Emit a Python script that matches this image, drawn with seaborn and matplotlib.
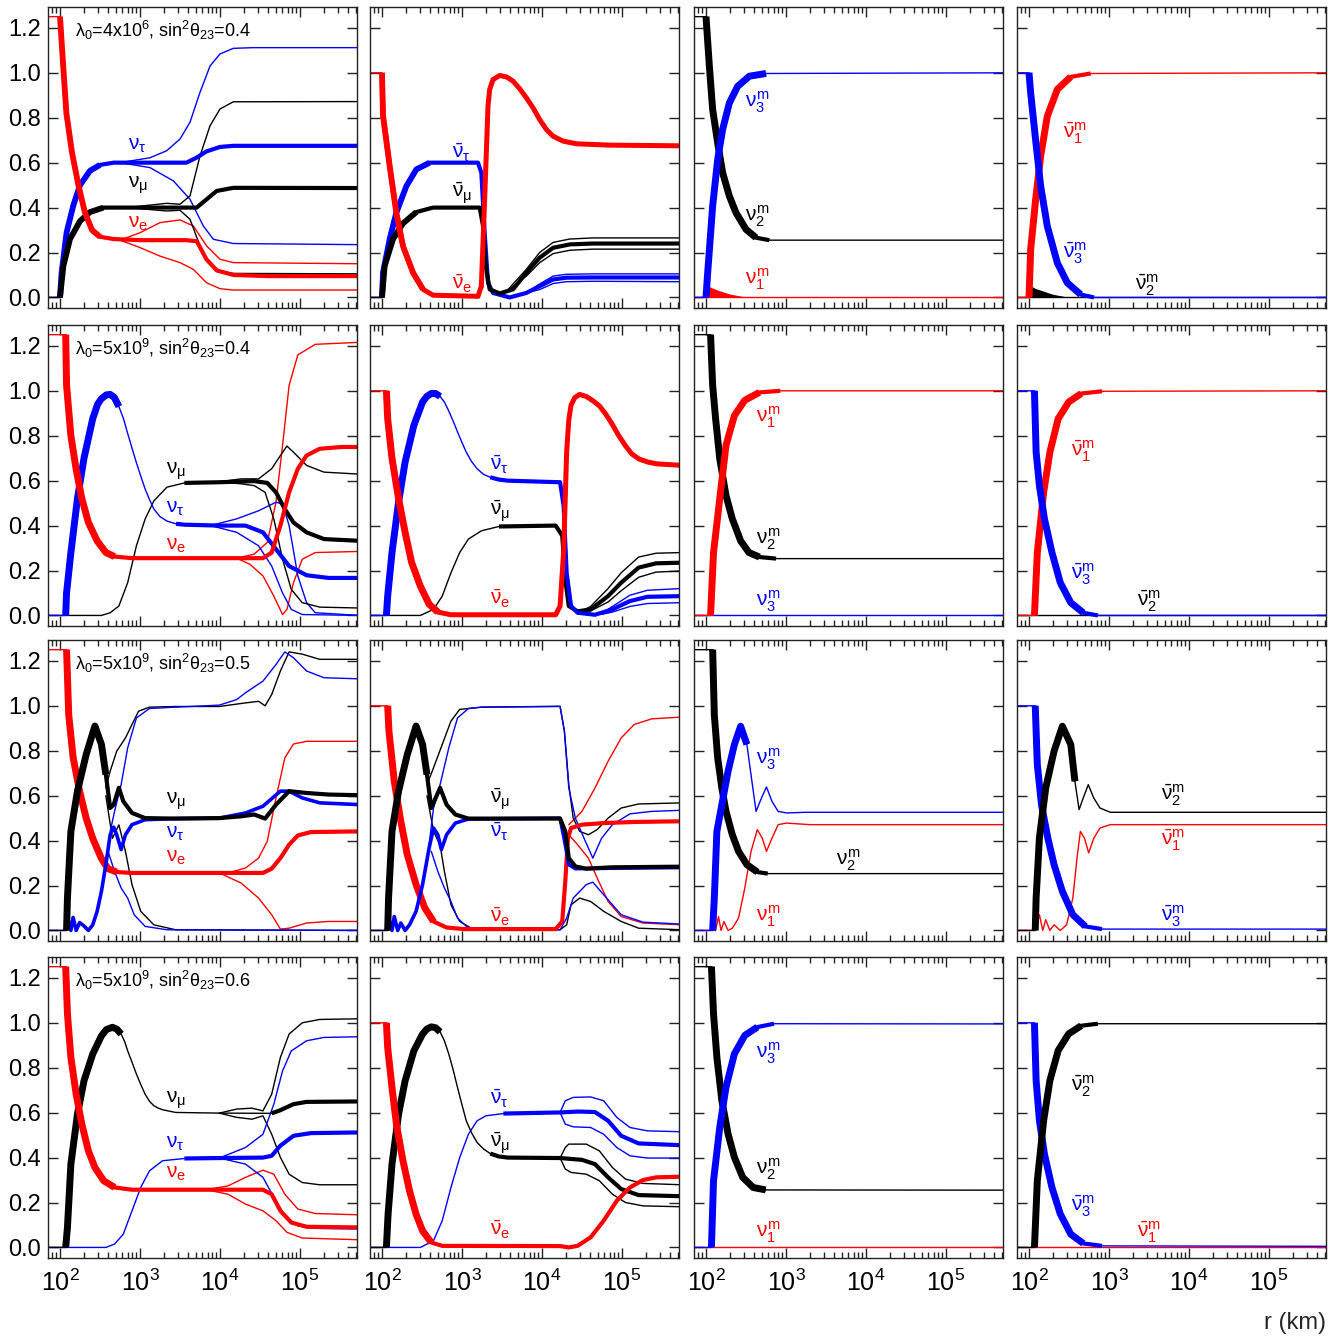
import numpy as np
import matplotlib
matplotlib.use("Agg")
import matplotlib.pyplot as plt
import seaborn as sns
from matplotlib.ticker import LogLocator, NullFormatter, FixedLocator, FixedFormatter

# ---------------------------------------------------------------------------
# Flavour / matter-eigenstate probabilities versus radius.
# Abscissae are log10(r / km); ordinates are probabilities.
# ---------------------------------------------------------------------------

# ---- row 1: lambda0 = 4x10^6, sin^2(theta23) = 0.4 -------------------------
p11_e_L = [1.8, 2.0, 2.04, 2.08, 2.15, 2.23, 2.31, 2.4, 2.5, 2.67, 3.0, 3.58, 3.71, 3.83, 3.96, 4.17, 4.6, 5.75]
p11_e_y = [1.25, 1.25, 1.03, 0.82, 0.645, 0.50, 0.38, 0.30, 0.27, 0.26, 0.255, 0.255, 0.25, 0.17, 0.12, 0.10, 0.095, 0.095]
p11_e_up_L = [2.75, 3.0, 3.25, 3.5, 3.667, 3.833, 4.0, 4.167, 5.75]
p11_e_up_y = [0.255, 0.288, 0.333, 0.345, 0.318, 0.229, 0.17, 0.155, 0.15]
p11_e_dn_L = [2.75, 3.0, 3.25, 3.5, 3.667, 3.833, 4.0, 4.167, 5.75]
p11_e_dn_y = [0.255, 0.222, 0.184, 0.155, 0.125, 0.065, 0.039, 0.033, 0.033]
p11_tau_L = [1.8, 2.0, 2.02, 2.083, 2.167, 2.25, 2.375, 2.5, 2.67, 3.58, 3.71, 3.83, 4.0, 4.17, 5.75]
p11_tau_y = [0, 0, 0.11, 0.29, 0.41, 0.50, 0.564, 0.59, 0.60, 0.60, 0.623, 0.65, 0.67, 0.675, 0.675]
p11_tau_up_L = [2.75, 3.125, 3.333, 3.5, 3.625, 3.75, 3.875, 4.0, 4.167, 4.42, 5.75]
p11_tau_up_y = [0.60, 0.622, 0.653, 0.705, 0.78, 0.913, 1.03, 1.084, 1.109, 1.112, 1.112]
p11_tau_dn_L = [2.75, 3.125, 3.417, 3.625, 3.792, 3.917, 4.167, 5.75]
p11_tau_dn_y = [0.60, 0.578, 0.519, 0.437, 0.318, 0.259, 0.24, 0.235]
p11_mu_L = [1.8, 2.0, 2.042, 2.125, 2.25, 2.375, 2.542, 3.708, 3.833, 3.958, 4.167, 5.75]
p11_mu_y = [0, 0, 0.14, 0.26, 0.34, 0.38, 0.40, 0.40, 0.437, 0.474, 0.488, 0.487]
p11_mu_up_L = [2.833, 3.333, 3.5, 3.625, 3.75, 3.875, 4.0, 4.167, 5.75]
p11_mu_up_y = [0.40, 0.419, 0.415, 0.452, 0.63, 0.764, 0.839, 0.871, 0.872]
p11_mu_dn_L = [2.833, 3.333, 3.5, 3.625, 3.75, 3.875, 4.0, 4.167, 5.75]
p11_mu_dn_y = [0.40, 0.385, 0.388, 0.348, 0.229, 0.147, 0.117, 0.107, 0.105]

p12_e_L = [1.8, 2.0, 2.0125, 2.096, 2.179, 2.263, 2.388, 2.513, 2.638, 3.2, 3.242, 3.283, 3.325, 3.346, 3.388, 3.471, 3.554, 3.638, 3.721, 3.804, 3.888, 3.971, 4.054, 4.138, 4.263, 4.429, 4.846, 5.75]
p12_e_y = [1.0, 1.0, 0.81, 0.585, 0.377, 0.228, 0.11, 0.036, 0.01, 0.005, 0.05, 0.436, 0.852, 0.926, 0.97, 0.988, 0.982, 0.963, 0.929, 0.889, 0.844, 0.792, 0.748, 0.718, 0.696, 0.684, 0.678, 0.675]
p12_tau_L = [1.8, 2.0, 2.0125, 2.096, 2.179, 2.304, 2.429, 2.596, 3.2, 3.242, 3.283, 3.325, 3.388, 3.596, 3.804, 3.971, 4.138, 4.304, 4.638, 5.75]
p12_tau_y = [0, 0, 0.11, 0.26, 0.377, 0.495, 0.57, 0.60, 0.60, 0.555, 0.288, 0.065, 0.02, 0.0, 0.02, 0.05, 0.08, 0.088, 0.089, 0.089]
p12_tau_up_L = [3.8, 3.97, 4.14, 4.3, 4.64, 5.75]
p12_tau_up_y = [0.02, 0.06, 0.095, 0.103, 0.105, 0.105]
p12_tau_dn_L = [3.8, 3.97, 4.14, 4.3, 4.64, 5.75]
p12_tau_dn_y = [0.02, 0.035, 0.062, 0.07, 0.072, 0.07]
p12_mu_L = [1.8, 2.0, 2.033, 2.138, 2.263, 2.429, 2.638, 3.221, 3.263, 3.296, 3.346, 3.471, 3.638, 3.804, 3.971, 4.138, 4.346, 4.638, 5.75]
p12_mu_y = [0, 0, 0.14, 0.26, 0.33, 0.38, 0.40, 0.40, 0.318, 0.14, 0.036, 0.018, 0.036, 0.11, 0.177, 0.221, 0.236, 0.24, 0.24]
p12_mu_up_L = [3.55, 3.804, 3.971, 4.138, 4.346, 4.638, 5.75]
p12_mu_up_y = [0.025, 0.125, 0.2, 0.245, 0.26, 0.265, 0.265]
p12_mu_dn_L = [3.55, 3.804, 3.971, 4.138, 4.346, 4.638, 5.75]
p12_mu_dn_y = [0.025, 0.095, 0.155, 0.195, 0.21, 0.215, 0.215]

p13_m2_L = [1.8, 2.0, 2.042, 2.083, 2.146, 2.208, 2.292, 2.375, 2.5, 2.625, 2.792, 5.75]
p13_m2_y = [1.25, 1.25, 1.03, 0.837, 0.688, 0.555, 0.451, 0.377, 0.303, 0.266, 0.255, 0.255]
p13_m3_L = [1.8, 2.0, 2.021, 2.083, 2.146, 2.208, 2.292, 2.396, 2.542, 2.75, 5.75]
p13_m3_y = [0, 0, 0.11, 0.406, 0.614, 0.748, 0.866, 0.94, 0.985, 0.997, 1.0]
p13_m1_L = [1.8, 5.75]
p13_m1_y = [0.0, 0.0]
p13_m1_osc_L = [2.0, 2.02, 2.06, 2.15, 2.3, 2.45, 2.55]
p13_m1_osc_y = [0.0, 0.055, 0.045, 0.032, 0.015, 0.005, 0.0]

p14_m3_L = [1.8, 2.0, 2.021, 2.083, 2.146, 2.229, 2.354, 2.479, 2.646, 2.813, 5.75]
p14_m3_y = [1.0, 1.0, 0.91, 0.70, 0.495, 0.317, 0.154, 0.065, 0.013, 0.0, 0.0]
p14_m1_L = [1.8, 2.0, 2.021, 2.083, 2.146, 2.229, 2.354, 2.521, 2.771, 5.75]
p14_m1_y = [0, 0, 0.214, 0.436, 0.63, 0.807, 0.926, 0.982, 0.997, 1.0]
p14_m2_L = [1.8, 5.75]
p14_m2_y = [0.0, 0.0]
p14_m2_osc_L = [2.0, 2.03, 2.08, 2.18, 2.3, 2.45, 2.55]
p14_m2_osc_y = [0.0, 0.05, 0.04, 0.028, 0.014, 0.004, 0.0]

# ---- row 2: lambda0 = 5x10^9, sin^2(theta23) = 0.4 -------------------------
p21_e_L = [1.8, 2.071, 2.082, 2.136, 2.202, 2.273, 2.355, 2.464, 2.573, 2.682, 2.9, 4.537, 4.646, 4.755, 4.864, 4.973, 5.082, 5.246, 5.519, 5.75]
p21_e_y = [1.25, 1.25, 1.025, 0.80, 0.65, 0.52, 0.414, 0.332, 0.28, 0.262, 0.255, 0.255, 0.28, 0.40, 0.548, 0.653, 0.712, 0.742, 0.75, 0.75]
p21_e_up_L = [4.209, 4.428, 4.591, 4.7, 4.782, 4.864, 4.973, 5.191, 5.75]
p21_e_up_y = [0.255, 0.273, 0.325, 0.504, 0.757, 1.025, 1.16, 1.207, 1.216]
p21_e_dn_L = [4.209, 4.373, 4.537, 4.673, 4.782, 4.837, 4.919, 5.028, 5.191, 5.75]
p21_e_dn_y = [0.255, 0.228, 0.176, 0.086, 0.004, 0.027, 0.146, 0.25, 0.28, 0.285]
p21_tau_L = [1.8, 2.071, 2.082, 2.136, 2.218, 2.3, 2.409, 2.47, 2.518, 2.58, 2.627, 2.68, 2.736, 2.79, 2.846, 2.9, 2.955, 3.01, 3.064, 3.12, 3.173, 3.25, 3.337, 3.45, 3.555, 3.991, 4.318, 4.537, 4.7, 4.864, 5.082, 5.355, 5.75]
p21_tau_y = [0, 0, 0.10, 0.28, 0.52, 0.70, 0.876, 0.94, 0.965, 0.982, 0.984, 0.97, 0.93, 0.88, 0.81, 0.745, 0.68, 0.62, 0.563, 0.515, 0.474, 0.44, 0.42, 0.408, 0.404, 0.40, 0.40, 0.37, 0.295, 0.22, 0.179, 0.167, 0.167]
p21_tau_up_L = [3.882, 4.209, 4.482, 4.7, 4.782, 4.864, 4.973, 5.082, 5.191, 5.75]
p21_tau_up_y = [0.40, 0.43, 0.466, 0.504, 0.496, 0.40, 0.176, 0.057, 0.012, 0.0]
p21_tau_dn_L = [3.882, 4.209, 4.482, 4.646, 4.782, 4.891, 5.028, 5.75]
p21_tau_dn_y = [0.40, 0.37, 0.31, 0.22, 0.10, 0.027, 0.004, 0.0]
p21_mu_L = [1.8, 2.518, 2.627, 2.736, 2.846, 2.955, 3.064, 3.173, 3.337, 3.555, 3.991, 4.428, 4.591, 4.7, 4.809, 4.918, 5.082, 5.3, 5.75]
p21_mu_y = [0, 0, 0.012, 0.042, 0.146, 0.31, 0.429, 0.51, 0.571, 0.59, 0.593, 0.598, 0.59, 0.548, 0.474, 0.414, 0.37, 0.34, 0.332]
p21_mu_up_L = [3.991, 4.264, 4.482, 4.646, 4.755, 4.837, 4.918, 5.082, 5.3, 5.75]
p21_mu_up_y = [0.595, 0.608, 0.608, 0.653, 0.712, 0.754, 0.727, 0.668, 0.638, 0.629]
p21_mu_dn_L = [3.991, 4.264, 4.428, 4.564, 4.673, 4.782, 4.891, 5.028, 5.246, 5.75]
p21_mu_dn_y = [0.595, 0.586, 0.578, 0.548, 0.429, 0.25, 0.116, 0.057, 0.037, 0.033]

p22_e_L = [1.8, 2.055, 2.071, 2.125, 2.207, 2.289, 2.371, 2.48, 2.589, 2.698, 2.862, 4.171, 4.226, 4.27, 4.308, 4.335, 4.363, 4.41, 4.47, 4.553, 4.64, 4.72, 4.8, 4.88, 4.96, 5.04, 5.12, 5.21, 5.32, 5.43, 5.75]
p22_e_y = [1.0, 1.0, 0.876, 0.70, 0.52, 0.37, 0.235, 0.13, 0.05, 0.015, 0.003, 0.003, 0.042, 0.28, 0.727, 0.87, 0.936, 0.97, 0.984, 0.975, 0.955, 0.932, 0.895, 0.85, 0.80, 0.757, 0.72, 0.697, 0.683, 0.675, 0.668]
p22_tau_L = [1.8, 2.055, 2.071, 2.125, 2.207, 2.289, 2.398, 2.507, 2.56, 2.616, 2.67, 2.726, 2.78, 2.835, 2.89, 2.944, 3.0, 3.053, 3.12, 3.189, 3.27, 3.353, 3.46, 3.571, 4.226, 4.27, 4.308, 4.363, 4.444, 4.662, 4.88, 5.099, 5.317, 5.75]
p22_tau_y = [0, 0, 0.086, 0.28, 0.504, 0.683, 0.846, 0.95, 0.975, 0.988, 0.988, 0.975, 0.95, 0.91, 0.865, 0.817, 0.77, 0.727, 0.685, 0.653, 0.628, 0.615, 0.605, 0.60, 0.593, 0.489, 0.19, 0.042, 0.012, 0.003, 0.027, 0.064, 0.083, 0.086]
p22_tau_up_L = [4.75, 4.88, 5.099, 5.317, 5.75]
p22_tau_up_y = [0.01, 0.04, 0.09, 0.112, 0.12]
p22_tau_dn_L = [4.75, 4.88, 5.099, 5.317, 5.75]
p22_tau_dn_y = [0.005, 0.015, 0.04, 0.053, 0.057]
p22_mu_L = [1.8, 2.48, 2.644, 2.753, 2.862, 2.971, 3.08, 3.244, 3.462, 4.171, 4.253, 4.291, 4.335, 4.444, 4.608, 4.826, 4.99, 5.208, 5.426, 5.75]
p22_mu_y = [0, 0, 0.027, 0.086, 0.19, 0.28, 0.34, 0.377, 0.396, 0.40, 0.355, 0.16, 0.042, 0.018, 0.027, 0.086, 0.146, 0.213, 0.232, 0.235]
p22_mu_up_L = [4.5, 4.608, 4.826, 4.99, 5.208, 5.426, 5.75]
p22_mu_up_y = [0.02, 0.04, 0.12, 0.19, 0.26, 0.277, 0.28]
p22_mu_dn_L = [4.5, 4.608, 4.826, 4.99, 5.208, 5.426, 5.75]
p22_mu_dn_y = [0.02, 0.02, 0.06, 0.11, 0.17, 0.193, 0.198]

p23_m2_L = [1.8, 2.057, 2.083, 2.12, 2.172, 2.25, 2.329, 2.433, 2.537, 2.668, 2.876, 5.75]
p23_m2_y = [1.25, 1.25, 1.025, 0.876, 0.697, 0.534, 0.43, 0.332, 0.28, 0.26, 0.253, 0.253]
p23_m1_L = [1.8, 2.057, 2.094, 2.172, 2.25, 2.355, 2.485, 2.668, 2.929, 5.75]
p23_m1_y = [0, 0, 0.28, 0.52, 0.757, 0.89, 0.958, 0.993, 1.0, 1.0]
p23_m3_L = [1.8, 5.75]
p23_m3_y = [0.0, 0.0]

p24_m3_L = [1.8, 2.068, 2.089, 2.13, 2.193, 2.287, 2.391, 2.522, 2.678, 2.861, 5.75]
p24_m3_y = [1.0, 1.0, 0.727, 0.578, 0.43, 0.28, 0.146, 0.057, 0.012, 0.0, 0.0]
p24_m1_L = [1.8, 2.068, 2.104, 2.183, 2.261, 2.365, 2.496, 2.652, 2.913, 5.75]
p24_m1_y = [0, 0, 0.28, 0.548, 0.727, 0.876, 0.95, 0.988, 0.998, 1.0]
p24_m2_L = [1.8, 5.75]
p24_m2_y = [0.0, 0.0]

# ---- row 3: lambda0 = 5x10^9, sin^2(theta23) = 0.5 -------------------------
p31_e_L = [1.8, 2.082, 2.109, 2.164, 2.245, 2.327, 2.409, 2.518, 2.6, 2.709, 2.9, 4.537, 4.646, 4.755, 4.864, 4.973, 5.137, 5.75]
p31_e_y = [1.25, 1.25, 0.96, 0.77, 0.62, 0.50, 0.41, 0.32, 0.275, 0.26, 0.256, 0.256, 0.275, 0.322, 0.382, 0.423, 0.438, 0.441]
p31_e_up_L = [4.1, 4.319, 4.482, 4.591, 4.7, 4.81, 4.918, 5.082, 5.75]
p31_e_up_y = [0.256, 0.278, 0.322, 0.397, 0.59, 0.768, 0.83, 0.842, 0.842]
p31_e_dn_L = [3.991, 4.264, 4.482, 4.646, 4.755, 4.864, 5.082, 5.355, 5.75]
p31_e_dn_y = [0.256, 0.211, 0.144, 0.07, 0.006, 0.01, 0.033, 0.04, 0.04]
p31_mu_L = [1.8, 2.082, 2.093, 2.136, 2.218, 2.327, 2.436, 2.518, 2.573, 2.627, 2.671, 2.736, 2.791, 2.9, 3.064, 3.446, 3.991, 4.264, 4.428, 4.564, 4.7, 4.864, 5.082, 5.355, 5.75]
p31_mu_y = [0, 0, 0.144, 0.441, 0.62, 0.783, 0.91, 0.828, 0.694, 0.545, 0.56, 0.635, 0.575, 0.523, 0.50, 0.498, 0.50, 0.508, 0.516, 0.498, 0.56, 0.62, 0.612, 0.605, 0.602]
p31_mu_up_L = [2.573, 2.627, 2.709, 2.818, 2.9, 2.982, 3.118, 3.446, 3.991, 4.319, 4.482, 4.564, 4.646, 4.755, 4.864, 5.028, 5.246, 5.75]
p31_mu_up_y = [0.635, 0.709, 0.798, 0.857, 0.917, 0.976, 0.994, 0.997, 0.997, 1.013, 1.02, 1.0, 1.05, 1.155, 1.24, 1.23, 1.207, 1.207]
p31_mu_dn_L = [2.573, 2.655, 2.736, 2.818, 2.9, 3.009, 3.173, 3.446, 5.75]
p31_mu_dn_y = [0.60, 0.41, 0.47, 0.352, 0.204, 0.085, 0.025, 0.003, 0.0]
p31_tau_L = [1.8, 2.082, 2.109, 2.136, 2.164, 2.202, 2.245, 2.3, 2.355, 2.409, 2.464, 2.518, 2.573, 2.627, 2.671, 2.709, 2.764, 2.818, 2.9, 3.064, 3.446, 3.991, 4.319, 4.537, 4.755, 4.864, 5.028, 5.246, 5.75]
p31_tau_y = [0, 0, 0.04, 0.0, 0.058, 0.0, 0.035, 0.02, 0.0, 0.025, 0.085, 0.174, 0.293, 0.426, 0.46, 0.426, 0.36, 0.426, 0.471, 0.493, 0.498, 0.50, 0.523, 0.553, 0.62, 0.62, 0.59, 0.568, 0.56]
p31_tau_up_L = [2.627, 2.682, 2.764, 2.846, 2.955, 3.118, 3.446, 3.991, 4.209, 4.319, 4.537, 4.7, 4.81, 4.918, 5.082, 5.3, 5.75]
p31_tau_up_y = [0.44, 0.53, 0.649, 0.813, 0.946, 0.988, 0.994, 1.003, 1.028, 1.058, 1.11, 1.184, 1.24, 1.214, 1.155, 1.125, 1.12]
p31_tau_dn_L = [2.6, 2.682, 2.764, 2.846, 2.927, 3.064, 3.337, 5.75]
p31_tau_dn_y = [0.352, 0.263, 0.189, 0.144, 0.07, 0.018, 0.003, 0.0]

p32_e_L = [1.8, 2.071, 2.087, 2.153, 2.235, 2.316, 2.426, 2.535, 2.644, 2.807, 3.026, 4.171, 4.253, 4.291, 4.324, 4.363, 4.499, 4.771, 5.153, 5.75]
p32_e_y = [1.0, 1.0, 0.887, 0.664, 0.486, 0.337, 0.204, 0.10, 0.04, 0.013, 0.006, 0.006, 0.04, 0.218, 0.41, 0.456, 0.471, 0.478, 0.483, 0.486]
p32_e_up_L = [4.335, 4.499, 4.662, 4.826, 4.99, 5.153, 5.371, 5.75]
p32_e_up_y = [0.471, 0.53, 0.634, 0.753, 0.857, 0.917, 0.942, 0.95]
p32_e_dn_L = [4.335, 4.444, 4.58, 4.69, 4.826, 4.99, 5.262, 5.75]
p32_e_dn_y = [0.426, 0.382, 0.322, 0.233, 0.129, 0.062, 0.033, 0.025]
p32_mu_L = [1.8, 2.071, 2.082, 2.125, 2.207, 2.316, 2.426, 2.507, 2.562, 2.616, 2.726, 2.807, 2.917, 3.08, 4.226, 4.291, 4.335, 4.417, 4.553, 4.88, 5.75]
p32_mu_y = [0, 0, 0.144, 0.441, 0.62, 0.783, 0.91, 0.828, 0.694, 0.545, 0.635, 0.56, 0.516, 0.498, 0.498, 0.441, 0.322, 0.285, 0.275, 0.281, 0.284]
p32_mu_up_L = [2.562, 2.644, 2.753, 2.862, 2.971, 3.244, 4.226, 4.28, 4.335, 4.39, 4.471, 4.58, 4.69, 4.826, 4.99, 5.208, 5.75]
p32_mu_up_y = [0.649, 0.724, 0.828, 0.932, 0.984, 0.994, 0.998, 0.887, 0.649, 0.50, 0.441, 0.426, 0.449, 0.50, 0.545, 0.563, 0.568]
p32_mu_dn_L = [2.562, 2.644, 2.726, 2.78, 2.862, 2.971, 3.135, 4.226, 4.308, 4.363, 4.471, 4.608, 4.771, 4.99, 5.208, 5.75]
p32_mu_dn_y = [0.60, 0.441, 0.38, 0.263, 0.114, 0.04, 0.006, 0.003, 0.025, 0.114, 0.144, 0.129, 0.085, 0.04, 0.01, 0.003]
p32_tau_L = [1.8, 2.071, 2.098, 2.125, 2.153, 2.196, 2.235, 2.289, 2.344, 2.426, 2.507, 2.589, 2.644, 2.698, 2.742, 2.807, 2.917, 3.08, 4.226, 4.291, 4.335, 4.417, 4.88, 5.75]
p32_tau_y = [0, 0, 0.04, 0.0, 0.062, 0.0, 0.033, 0.0, 0.025, 0.085, 0.204, 0.367, 0.456, 0.426, 0.36, 0.426, 0.478, 0.496, 0.50, 0.382, 0.293, 0.275, 0.277, 0.28]
p32_tau_up_L = [2.589, 2.644, 2.726, 2.835, 2.944, 3.08, 3.244, 4.226, 4.28, 4.335, 4.417, 4.526, 4.635, 4.744, 4.88, 5.099, 5.371, 5.75]
p32_tau_up_y = [0.382, 0.545, 0.649, 0.813, 0.946, 0.988, 0.994, 0.997, 0.887, 0.634, 0.50, 0.41, 0.322, 0.41, 0.471, 0.519, 0.53, 0.535]
p32_tau_dn_L = [2.616, 2.698, 2.78, 2.862, 2.944, 3.08, 4.226, 4.308, 4.39, 4.553, 4.635, 4.771, 4.99, 5.262, 5.75]
p32_tau_dn_y = [0.352, 0.263, 0.189, 0.129, 0.055, 0.01, 0.003, 0.055, 0.144, 0.204, 0.215, 0.159, 0.07, 0.037, 0.028]

p33_m2_L = [1.8, 2.083, 2.104, 2.146, 2.198, 2.25, 2.329, 2.407, 2.511, 2.642, 2.772, 5.75]
p33_m2_y = [1.25, 1.25, 0.96, 0.768, 0.634, 0.53, 0.426, 0.352, 0.293, 0.26, 0.253, 0.253]
p33_m3_L = [1.8, 2.083, 2.104, 2.136, 2.198, 2.276, 2.355, 2.433, 2.511, 2.574, 2.626, 2.694, 2.756, 2.824, 2.902, 3.007, 3.242, 5.75]
p33_m3_y = [0, 0, 0.144, 0.441, 0.56, 0.709, 0.828, 0.909, 0.828, 0.664, 0.53, 0.59, 0.639, 0.575, 0.53, 0.523, 0.526, 0.526]
p33_m1_L = [1.8, 2.083, 2.12, 2.156, 2.188, 2.224, 2.276, 2.329, 2.407, 2.485, 2.563, 2.642, 2.704, 2.756, 2.824, 2.902, 3.007, 3.294, 5.75]
p33_m1_y = [0, 0, 0.0, 0.062, 0.0, 0.04, 0.0, 0.01, 0.055, 0.189, 0.352, 0.449, 0.41, 0.352, 0.41, 0.471, 0.478, 0.471, 0.471]

p34_m3_L = [1.8, 2.078, 2.104, 2.156, 2.235, 2.313, 2.417, 2.548, 2.704, 2.913, 5.75]
p34_m3_y = [1.0, 1.0, 0.738, 0.56, 0.412, 0.293, 0.174, 0.07, 0.018, 0.006, 0.006]
p34_m2_L = [1.8, 2.078, 2.089, 2.13, 2.209, 2.313, 2.417, 2.522, 2.574, 2.626, 2.678, 2.741, 2.809, 2.887, 3.017, 5.75]
p34_m2_y = [0, 0, 0.144, 0.412, 0.634, 0.798, 0.909, 0.828, 0.664, 0.538, 0.59, 0.649, 0.59, 0.545, 0.526, 0.526]
p34_m1_L = [1.8, 2.078, 2.13, 2.172, 2.209, 2.261, 2.313, 2.391, 2.47, 2.548, 2.6, 2.642, 2.694, 2.746, 2.809, 2.887, 3.017, 5.75]
p34_m1_y = [0, 0, 0.07, 0.0, 0.048, 0.0, 0.025, 0.0, 0.025, 0.144, 0.322, 0.441, 0.41, 0.345, 0.41, 0.456, 0.471, 0.471]

# ---- row 4: lambda0 = 5x10^9, sin^2(theta23) = 0.6 -------------------------
p41_e_L = [1.8, 2.071, 2.093, 2.136, 2.202, 2.273, 2.355, 2.436, 2.546, 2.682, 2.9, 4.537, 4.646, 4.755, 4.891, 5.082, 5.75]
p41_e_y = [1.25, 1.25, 1.04, 0.846, 0.682, 0.549, 0.43, 0.356, 0.297, 0.267, 0.257, 0.257, 0.237, 0.163, 0.111, 0.092, 0.089]
p41_e_up_L = [3.828, 4.1, 4.319, 4.537, 4.673, 4.81, 4.973, 5.191, 5.75]
p41_e_up_y = [0.257, 0.274, 0.312, 0.344, 0.326, 0.237, 0.171, 0.151, 0.145]
p41_e_dn_L = [3.828, 4.1, 4.319, 4.537, 4.7, 4.837, 5.028, 5.75]
p41_e_dn_y = [0.257, 0.237, 0.193, 0.163, 0.119, 0.067, 0.042, 0.034]
p41_mu_L = [1.8, 2.071, 2.093, 2.136, 2.218, 2.3, 2.409, 2.518, 2.58, 2.655, 2.71, 2.764, 2.81, 2.846, 2.9, 2.955, 3.01, 3.064, 3.12, 3.173, 3.23, 3.282, 3.446, 3.991, 4.646, 4.755, 4.918, 5.082, 5.75]
p41_mu_y = [0, 0, 0.089, 0.371, 0.593, 0.742, 0.861, 0.942, 0.97, 0.98, 0.972, 0.95, 0.915, 0.875, 0.825, 0.772, 0.725, 0.682, 0.65, 0.631, 0.62, 0.613, 0.601, 0.598, 0.597, 0.611, 0.638, 0.648, 0.65]
p41_mu_up_L = [3.991, 4.209, 4.4, 4.537, 4.646, 4.755, 4.864, 5.028, 5.246, 5.75]
p41_mu_up_y = [0.598, 0.616, 0.62, 0.608, 0.682, 0.846, 0.95, 1.0, 1.015, 1.018]
p41_mu_dn_L = [3.991, 4.209, 4.4, 4.537, 4.646, 4.755, 4.864, 5.028, 5.246, 5.75]
p41_mu_dn_y = [0.598, 0.579, 0.571, 0.586, 0.504, 0.401, 0.326, 0.289, 0.279, 0.279]
p41_tau_L = [1.8, 2.573, 2.682, 2.791, 2.9, 3.009, 3.118, 3.282, 3.555, 3.991, 4.537, 4.646, 4.755, 4.918, 5.137, 5.75]
p41_tau_y = [0, 0, 0.015, 0.059, 0.163, 0.267, 0.341, 0.386, 0.396, 0.398, 0.40, 0.408, 0.453, 0.497, 0.509, 0.512]
p41_tau_up_L = [3.991, 4.319, 4.537, 4.673, 4.782, 4.891, 5.082, 5.3, 5.75]
p41_tau_up_y = [0.398, 0.445, 0.504, 0.638, 0.786, 0.875, 0.92, 0.935, 0.938]
p41_tau_dn_L = [3.991, 4.319, 4.537, 4.673, 4.81, 4.973, 5.191, 5.75]
p41_tau_dn_y = [0.398, 0.371, 0.312, 0.223, 0.141, 0.096, 0.085, 0.082]

p42_e_L = [1.8, 2.055, 2.071, 2.125, 2.18, 2.262, 2.344, 2.426, 2.507, 2.616, 2.753, 4.226, 4.335, 4.444, 4.608, 4.771, 4.935, 5.099, 5.262, 5.426, 5.75]
p42_e_y = [1.0, 1.0, 0.89, 0.712, 0.549, 0.386, 0.252, 0.148, 0.074, 0.022, 0.007, 0.006, 0.0, 0.007, 0.045, 0.119, 0.208, 0.267, 0.30, 0.312, 0.315]
p42_mu_L = [1.8, 2.055, 2.076, 2.125, 2.207, 2.289, 2.398, 2.507, 2.56, 2.616, 2.67, 2.726, 2.78, 2.835, 2.89, 2.944, 3.0, 3.053, 3.12, 3.189, 3.27, 3.353, 3.46, 3.571, 4.226, 4.499, 4.662, 4.826, 4.99, 5.208, 5.75]
p42_mu_y = [0, 0, 0.148, 0.371, 0.593, 0.742, 0.875, 0.95, 0.972, 0.982, 0.978, 0.96, 0.92, 0.861, 0.79, 0.712, 0.635, 0.564, 0.51, 0.467, 0.438, 0.418, 0.405, 0.40, 0.398, 0.39, 0.371, 0.312, 0.26, 0.233, 0.228]
p42_mu_up_L = [4.226, 4.291, 4.335, 4.553, 4.717, 4.88, 5.044, 5.262, 5.75]
p42_mu_up_y = [0.398, 0.445, 0.46, 0.46, 0.43, 0.356, 0.304, 0.285, 0.279]
p42_mu_dn_L = [4.226, 4.291, 4.362, 4.553, 4.717, 4.88, 5.044, 5.262, 5.75]
p42_mu_dn_y = [0.398, 0.349, 0.334, 0.326, 0.297, 0.237, 0.20, 0.185, 0.181]
p42_tau_L = [1.8, 2.48, 2.644, 2.753, 2.862, 2.971, 3.08, 3.189, 3.298, 3.517, 4.226, 4.444, 4.662, 4.826, 4.99, 5.208, 5.75]
p42_tau_y = [0, 0, 0.03, 0.119, 0.267, 0.40, 0.504, 0.564, 0.586, 0.596, 0.601, 0.605, 0.603, 0.564, 0.497, 0.463, 0.455]
p42_tau_up_L = [4.226, 4.291, 4.39, 4.608, 4.771, 4.935, 5.099, 5.317, 5.75]
p42_tau_up_y = [0.601, 0.653, 0.668, 0.67, 0.653, 0.579, 0.534, 0.519, 0.515]
p42_tau_dn_L = [4.226, 4.291, 4.39, 4.608, 4.771, 4.935, 5.099, 5.317, 5.75]
p42_tau_dn_y = [0.601, 0.549, 0.537, 0.534, 0.504, 0.445, 0.408, 0.398, 0.398]

p43_m2_L = [1.8, 2.068, 2.094, 2.136, 2.198, 2.276, 2.355, 2.459, 2.589, 2.746, 5.75]
p43_m2_y = [1.25, 1.25, 1.04, 0.847, 0.654, 0.505, 0.401, 0.312, 0.267, 0.256, 0.255]
p43_m3_L = [1.8, 2.068, 2.094, 2.172, 2.25, 2.355, 2.485, 2.642, 2.85, 5.75]
p43_m3_y = [0, 0, 0.297, 0.535, 0.713, 0.862, 0.944, 0.981, 0.996, 0.995]
p43_m1_L = [1.8, 5.75]
p43_m1_y = [0.0, 0.0]

p44_m3_L = [1.8, 2.068, 2.089, 2.13, 2.193, 2.287, 2.391, 2.522, 2.678, 2.913, 5.75]
p44_m3_y = [1.0, 1.0, 0.743, 0.565, 0.416, 0.267, 0.149, 0.059, 0.018, 0.007, 0.005]
p44_m2_L = [1.8, 2.068, 2.104, 2.183, 2.261, 2.365, 2.496, 2.652, 2.861, 5.75]
p44_m2_y = [0, 0, 0.297, 0.565, 0.743, 0.877, 0.951, 0.987, 0.996, 0.996]
p44_m1_L = [1.8, 5.75]
p44_m1_y = [0.0, 0.0]

# panel captions (one per row) and axis labels
row_captions = [r"$\lambda_0$=4x10$^6$, sin$^2\theta_{23}$=0.4",
                r"$\lambda_0$=5x10$^9$, sin$^2\theta_{23}$=0.4",
                r"$\lambda_0$=5x10$^9$, sin$^2\theta_{23}$=0.5",
                r"$\lambda_0$=5x10$^9$, sin$^2\theta_{23}$=0.6"]
x_tick_values = [1e2, 1e3, 1e4, 1e5]
x_tick_labels = [r"$10^2$", r"$10^3$", r"$10^4$", r"$10^5$"]
y_tick_values = [0.0, 0.2, 0.4, 0.6, 0.8, 1.0, 1.2]
y_tick_labels = ["0.0", "0.2", "0.4", "0.6", "0.8", "1.0", "1.2"]
x_axis_label = "r (km)"

# ---------------------------------------------------------------------------
RED, BLUE, BLACK = "#ff0000", "#0000ff", "#000000"
FULL = "full"
B12 = (4.2, 2.6)    # oscillation smear on the first-row flavour curves
B24 = (5.0, 2.75)   # oscillation smear elsewhere

# (row, col, L, y, colour, thick segments, smear (lw, end), thick lw)
curves = [
    (0, 0, p11_e_up_L, p11_e_up_y, RED, None, None, None),
    (0, 0, p11_e_dn_L, p11_e_dn_y, RED, None, None, None),
    (0, 0, p11_tau_up_L, p11_tau_up_y, BLUE, None, None, None),
    (0, 0, p11_tau_dn_L, p11_tau_dn_y, BLUE, None, None, None),
    (0, 0, p11_mu_up_L, p11_mu_up_y, BLACK, None, None, None),
    (0, 0, p11_mu_dn_L, p11_mu_dn_y, BLACK, None, None, None),
    (0, 0, p11_tau_L, p11_tau_y, BLUE, FULL, B12, 3.0),
    (0, 0, p11_mu_L, p11_mu_y, BLACK, FULL, B12, 3.0),
    (0, 0, p11_e_L, p11_e_y, RED, FULL, B12, 3.0),

    (0, 1, p12_tau_up_L, p12_tau_up_y, BLUE, None, None, None),
    (0, 1, p12_tau_dn_L, p12_tau_dn_y, BLUE, None, None, None),
    (0, 1, p12_mu_up_L, p12_mu_up_y, BLACK, None, None, None),
    (0, 1, p12_mu_dn_L, p12_mu_dn_y, BLACK, None, None, None),
    (0, 1, p12_tau_L, p12_tau_y, BLUE, FULL, B12, 3.0),
    (0, 1, p12_mu_L, p12_mu_y, BLACK, FULL, B12, 3.0),
    (0, 1, p12_e_L, p12_e_y, RED, FULL, B12, 3.6),

    (0, 2, p13_m1_L, p13_m1_y, RED, None, None, None),
    (0, 2, p13_m2_L, p13_m2_y, BLACK, [(2.0, 2.8)], B24, 3.0),
    (0, 2, p13_m3_L, p13_m3_y, BLUE, [(2.0, 2.75)], B24, 3.0),

    (0, 3, p14_m2_L, p14_m2_y, BLACK, None, None, None),
    (0, 3, p14_m1_L, p14_m1_y, RED, [(2.0, 2.78)], B24, 3.0),
    (0, 3, p14_m3_L, p14_m3_y, BLUE, [(2.0, 2.82)], B24, 3.0),

    (1, 0, p21_e_up_L, p21_e_up_y, RED, None, None, None),
    (1, 0, p21_e_dn_L, p21_e_dn_y, RED, None, None, None),
    (1, 0, p21_tau_up_L, p21_tau_up_y, BLUE, None, None, None),
    (1, 0, p21_tau_dn_L, p21_tau_dn_y, BLUE, None, None, None),
    (1, 0, p21_mu_up_L, p21_mu_up_y, BLACK, None, None, None),
    (1, 0, p21_mu_dn_L, p21_mu_dn_y, BLACK, None, None, None),
    (1, 0, p21_mu_L, p21_mu_y, BLACK, [(3.5, 5.75)], None, 3.0),
    (1, 0, p21_tau_L, p21_tau_y, BLUE, [(2.071, 2.75), (3.45, 5.75)], B24, 3.0),
    (1, 0, p21_e_L, p21_e_y, RED, FULL, B24, 3.0),

    (1, 1, p22_tau_up_L, p22_tau_up_y, BLUE, None, None, None),
    (1, 1, p22_tau_dn_L, p22_tau_dn_y, BLUE, None, None, None),
    (1, 1, p22_mu_up_L, p22_mu_up_y, BLACK, None, None, None),
    (1, 1, p22_mu_dn_L, p22_mu_dn_y, BLACK, None, None, None),
    (1, 1, p22_mu_L, p22_mu_y, BLACK, [(3.4, 5.75)], None, 3.0),
    (1, 1, p22_tau_L, p22_tau_y, BLUE, [(2.055, 2.75), (3.3, 5.75)], B24, 3.0),
    (1, 1, p22_e_L, p22_e_y, RED, FULL, B24, 3.6),

    (1, 2, p23_m3_L, p23_m3_y, BLUE, None, None, None),
    (1, 2, p23_m2_L, p23_m2_y, BLACK, [(2.057, 2.88)], B24, 3.0),
    (1, 2, p23_m1_L, p23_m1_y, RED, [(2.057, 2.93)], B24, 3.0),

    (1, 3, p24_m2_L, p24_m2_y, BLACK, None, None, None),
    (1, 3, p24_m1_L, p24_m1_y, RED, [(2.068, 2.92)], B24, 3.0),
    (1, 3, p24_m3_L, p24_m3_y, BLUE, [(2.068, 2.87)], B24, 3.0),

    (2, 0, p31_e_up_L, p31_e_up_y, RED, None, None, None),
    (2, 0, p31_e_dn_L, p31_e_dn_y, RED, None, None, None),
    (2, 0, p31_mu_up_L, p31_mu_up_y, BLACK, None, None, None),
    (2, 0, p31_mu_dn_L, p31_mu_dn_y, BLACK, None, None, None),
    (2, 0, p31_tau_up_L, p31_tau_up_y, BLUE, None, None, None),
    (2, 0, p31_tau_dn_L, p31_tau_dn_y, BLUE, None, None, None),
    (2, 0, p31_e_L, p31_e_y, RED, FULL, B24, 3.0),
    (2, 0, p31_tau_L, p31_tau_y, BLUE, FULL, None, 2.6),
    (2, 0, p31_mu_L, p31_mu_y, BLACK, FULL, (5.0, 2.6), 3.0),

    (2, 1, p32_e_up_L, p32_e_up_y, RED, None, None, None),
    (2, 1, p32_e_dn_L, p32_e_dn_y, RED, None, None, None),
    (2, 1, p32_mu_up_L, p32_mu_up_y, BLACK, None, None, None),
    (2, 1, p32_mu_dn_L, p32_mu_dn_y, BLACK, None, None, None),
    (2, 1, p32_tau_up_L, p32_tau_up_y, BLUE, None, None, None),
    (2, 1, p32_tau_dn_L, p32_tau_dn_y, BLUE, None, None, None),
    (2, 1, p32_e_L, p32_e_y, RED, FULL, B24, 3.0),
    (2, 1, p32_tau_L, p32_tau_y, BLUE, FULL, None, 2.6),
    (2, 1, p32_mu_L, p32_mu_y, BLACK, FULL, (5.0, 2.6), 3.0),

    (2, 2, p33_m1_L, p33_m1_y, RED, None, None, None),
    (2, 2, p33_m2_L, p33_m2_y, BLACK, [(2.083, 2.78)], B24, 3.0),
    (2, 2, p33_m3_L, p33_m3_y, BLUE, [(2.083, 2.55)], (5.0, 2.55), 3.0),

    (2, 3, p34_m1_L, p34_m1_y, RED, None, None, None),
    (2, 3, p34_m3_L, p34_m3_y, BLUE, [(2.078, 2.92)], (5.0, 2.8), 3.0),
    (2, 3, p34_m2_L, p34_m2_y, BLACK, [(2.078, 2.6)], (5.0, 2.6), 3.0),

    (3, 0, p41_e_up_L, p41_e_up_y, RED, None, None, None),
    (3, 0, p41_e_dn_L, p41_e_dn_y, RED, None, None, None),
    (3, 0, p41_mu_up_L, p41_mu_up_y, BLACK, None, None, None),
    (3, 0, p41_mu_dn_L, p41_mu_dn_y, BLACK, None, None, None),
    (3, 0, p41_tau_up_L, p41_tau_up_y, BLUE, None, None, None),
    (3, 0, p41_tau_dn_L, p41_tau_dn_y, BLUE, None, None, None),
    (3, 0, p41_tau_L, p41_tau_y, BLUE, [(3.4, 5.75)], None, 3.0),
    (3, 0, p41_mu_L, p41_mu_y, BLACK, [(2.071, 2.78), (4.3, 5.75)], (5.0, 2.78), 3.0),
    (3, 0, p41_e_L, p41_e_y, RED, FULL, B24, 3.0),

    (3, 1, p42_mu_up_L, p42_mu_up_y, BLACK, None, None, None),
    (3, 1, p42_mu_dn_L, p42_mu_dn_y, BLACK, None, None, None),
    (3, 1, p42_tau_up_L, p42_tau_up_y, BLUE, None, None, None),
    (3, 1, p42_tau_dn_L, p42_tau_dn_y, BLUE, None, None, None),
    (3, 1, p42_tau_L, p42_tau_y, BLUE, [(3.3, 5.75)], None, 3.0),
    (3, 1, p42_mu_L, p42_mu_y, BLACK, [(2.055, 2.75), (3.35, 5.75)], B24, 3.0),
    (3, 1, p42_e_L, p42_e_y, RED, FULL, B24, 3.0),

    (3, 2, p43_m1_L, p43_m1_y, RED, None, None, None),
    (3, 2, p43_m2_L, p43_m2_y, BLACK, [(2.068, 2.75)], B24, 3.0),
    (3, 2, p43_m3_L, p43_m3_y, BLUE, [(2.068, 2.85)], B24, 3.0),

    (3, 3, p44_m1_L, p44_m1_y, RED, None, None, None),
    (3, 3, p44_m3_L, p44_m3_y, BLUE, [(2.068, 2.92)], B24, 3.0),
    (3, 3, p44_m2_L, p44_m2_y, BLACK, [(2.068, 2.87)], B24, 3.0),
]

# small decaying wiggles on zero lines: (row, col, L, upper envelope, colour)
wiggles = [
    (0, 2, p13_m1_osc_L, p13_m1_osc_y, RED),
    (0, 3, p14_m2_osc_L, p14_m2_osc_y, BLACK),
]

NU = r"$\nu_{%s}$"
NUB = r"$\bar{\nu}_{%s}$"
NUM = r"$\nu_{%s}^{m}$"
NUBM = r"$\bar{\nu}_{%s}^{m}$"
# (row, col, L, y, text, colour)
labels = [
    (0, 0, 2.85, 0.658, NU % r"\tau", BLUE), (0, 0, 2.85, 0.489, NU % r"\mu", BLACK), (0, 0, 2.85, 0.311, NU % "e", RED),
    (0, 1, 2.871, 0.616, NUB % r"\tau", BLUE), (0, 1, 2.871, 0.443, NUB % r"\mu", BLACK), (0, 1, 2.871, 0.036, NUB % "e", RED),
    (0, 2, 2.49, 0.848, NUM % "3", BLUE), (0, 2, 2.49, 0.339, NUM % "2", BLACK), (0, 2, 2.49, 0.058, NUM % "1", RED),
    (0, 3, 2.429, 0.71, NUBM % "1", RED), (0, 3, 2.429, 0.176, NUBM % "3", BLUE), (0, 3, 3.325, 0.032, NUBM % "2", BLACK),
    (1, 0, 3.325, 0.63, NU % r"\mu", BLACK), (1, 0, 3.325, 0.458, NU % r"\tau", BLUE), (1, 0, 3.325, 0.294, NU % "e", RED),
    (1, 1, 3.354, 0.644, NUB % r"\tau", BLUE), (1, 1, 3.354, 0.443, NUB % r"\mu", BLACK), (1, 1, 3.354, 0.049, NUB % "e", RED),
    (1, 2, 2.62, 0.86, NUM % "1", RED), (1, 2, 2.62, 0.317, NUM % "2", BLACK), (1, 2, 2.62, 0.042, NUM % "3", BLUE),
    (1, 3, 2.525, 0.711, NUBM % "1", RED), (1, 3, 2.525, 0.161, NUBM % "3", BLUE), (1, 3, 3.35, 0.042, NUBM % "2", BLACK),
    (2, 0, 3.325, 0.564, NU % r"\mu", BLACK), (2, 0, 3.325, 0.415, NU % r"\tau", BLUE), (2, 0, 3.325, 0.304, NU % "e", RED),
    (2, 1, 3.354, 0.564, NUB % r"\mu", BLACK), (2, 1, 3.354, 0.415, NUB % r"\tau", BLUE), (2, 1, 3.354, 0.036, NUB % "e", RED),
    (2, 2, 2.62, 0.742, NUM % "3", BLUE), (2, 2, 3.63, 0.289, NUM % "2", BLACK), (2, 2, 2.62, 0.043, NUM % "1", RED),
    (2, 3, 3.655, 0.579, NUBM % "2", BLACK), (2, 3, 3.655, 0.378, NUBM % "1", RED), (2, 3, 3.655, 0.043, NUBM % "3", BLUE),
    (3, 0, 3.325, 0.644, NU % r"\mu", BLACK), (3, 0, 3.325, 0.444, NU % r"\tau", BLUE), (3, 0, 3.325, 0.311, NU % "e", RED),
    (3, 1, 3.354, 0.637, NUB % r"\tau", BLUE), (3, 1, 3.354, 0.444, NUB % r"\mu", BLACK), (3, 1, 3.354, 0.052, NUB % "e", RED),
    (3, 2, 2.62, 0.844, NUM % "3", BLUE), (3, 2, 2.62, 0.326, NUM % "2", BLACK), (3, 2, 2.62, 0.044, NUM % "1", RED),
    (3, 3, 2.525, 0.696, NUBM % "2", BLACK), (3, 3, 2.525, 0.163, NUBM % "3", BLUE), (3, 3, 3.35, 0.044, NUBM % "1", RED),
]

# ---------------------------------------------------------------------------
sns.set_theme(style="ticks")
plt.rcParams["font.family"] = ["Liberation Sans", "DejaVu Sans"]
plt.rcParams["mathtext.fontset"] = "custom"
plt.rcParams["mathtext.rm"] = "Liberation Sans"
plt.rcParams["mathtext.it"] = "Liberation Sans"
plt.rcParams["mathtext.bf"] = "Liberation Sans:bold"
plt.rcParams["mathtext.sf"] = "Liberation Sans"
plt.rcParams["axes.linewidth"] = 1.0
plt.rcParams["axes.edgecolor"] = "#222222"

W, H = 1341, 1338
fig = plt.figure(figsize=(W / 100, H / 100), dpi=100)
col_left = [48, 370, 694, 1017]
row_top = [7, 325, 640, 957]
AW, AH = 309, 301
axes = [[fig.add_axes([cl / W, 1 - (rt + AH) / H, AW / W, AH / H]) for cl in col_left]
        for rt in row_top]

X_LO, X_HI = 10 ** 1.85, 10 ** 5.7125
Y_LO, Y_HI = -0.047, 1.293

for row in range(4):
    for col in range(4):
        ax = axes[row][col]
        ax.set_facecolor("white")
        ax.set_xscale("log")
        ax.set_xlim(X_LO, X_HI)
        ax.set_ylim(Y_LO, Y_HI)


def draw_curve(ax, L, y, color, thick, smear, lw_thick):
    L = np.asarray(L, float)
    y = np.asarray(y, float)
    r = 10 ** L
    sns.lineplot(x=r, y=y, ax=ax, color=color, linewidth=1.0, estimator=None,
                 sort=False, legend=False)
    if smear is not None:
        lw_s, end = smear
        m = (L > L[1] + 1e-9) & (L <= end)
        m[np.argmax(m) - 1] = True
        sns.lineplot(x=r[m], y=y[m], ax=ax, color=color, linewidth=lw_s,
                     estimator=None, sort=False, legend=False,
                     solid_capstyle="butt", solid_joinstyle="round")
    if thick is not None:
        segs = [(L[1], L[-1])] if thick == FULL else thick
        for a, b in segs:
            m = (L >= a - 1e-9) & (L <= b + 1e-9)
            sns.lineplot(x=r[m], y=y[m], ax=ax, color=color, linewidth=lw_thick,
                         estimator=None, sort=False, legend=False,
                         solid_capstyle="butt", solid_joinstyle="round")


for row, col, L, y, color, thick, smear, lw_thick in curves:
    draw_curve(axes[row][col], L, y, color, thick, smear, lw_thick)

for row, col, L, top, color in wiggles:
    r = 10 ** np.asarray(L)
    axes[row][col].fill_between(r, 0, np.asarray(top), color=color, lw=0)

for row, col, L, y, text, color in labels:
    axes[row][col].text(10 ** L, y, text, color=color, fontsize=15,
                        ha="left", va="baseline")

for row in range(4):
    axes[row][0].text(10 ** 2.19, 1.16, row_captions[row], color="black",
                      fontsize=13, ha="left", va="baseline")

for row in range(4):
    for col in range(4):
        ax = axes[row][col]
        ax.xaxis.set_major_locator(FixedLocator(x_tick_values))
        ax.xaxis.set_minor_locator(LogLocator(base=10, subs=np.arange(2, 10)))
        ax.xaxis.set_minor_formatter(NullFormatter())
        ax.yaxis.set_major_locator(FixedLocator(y_tick_values))
        ax.tick_params(which="both", direction="in", top=True, right=True,
                       colors="#222222", width=1.0)
        ax.tick_params(which="major", length=7)
        ax.tick_params(axis="y", which="major", labelsize=17, pad=5)
        ax.tick_params(axis="x", which="major", labelsize=18, pad=8)
        ax.tick_params(which="minor", length=4)
        if row == 3:
            ax.xaxis.set_major_formatter(FixedFormatter(x_tick_labels))
        else:
            ax.xaxis.set_major_formatter(NullFormatter())
        if col == 0:
            ax.yaxis.set_major_formatter(FixedFormatter(y_tick_labels))
        else:
            ax.yaxis.set_major_formatter(NullFormatter())
        ax.tick_params(labelcolor="black")
        ax.set_xlabel("")
        ax.set_ylabel("")

fig.text(1326 / W, 1 - 1323 / H, x_axis_label, fontsize=17, ha="right", va="center")

fig.savefig("out.png", dpi=100, facecolor="white")
